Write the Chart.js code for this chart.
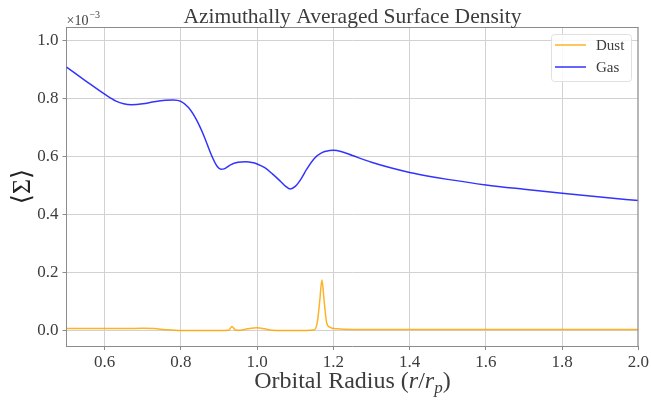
<!DOCTYPE html>
<html>
<head>
<meta charset="utf-8">
<script src="https://cdn.jsdelivr.net/npm/chart.js@4/dist/chart.umd.min.js"></script>
<style>
  html, body { margin: 0; padding: 0; background: #fff; }
  #wrap { width: 651px; height: 402px; position: relative; }
</style>
</head>
<body>
<div id="wrap"><canvas id="surfaceCanvas"></canvas></div>
<script>
// Radius (r/r_p) and averaged surface density (x 1e-3)
const gasR = [0.50, 0.55, 0.60, 0.63, 0.65, 0.67, 0.70, 0.73, 0.76, 0.78, 0.80, 0.82, 0.84, 0.86, 0.88,
  0.895, 0.905, 0.915, 0.93, 0.95, 0.97, 0.99, 1.00, 1.02, 1.04, 1.06, 1.075, 1.087, 1.10, 1.115,
  1.13, 1.15, 1.17, 1.19, 1.20, 1.22, 1.25, 1.30, 1.35, 1.40, 1.45, 1.50, 1.60, 1.70, 1.80, 1.90, 2.00];
const gasSigma = [0.907, 0.860, 0.814, 0.790, 0.781, 0.778, 0.781, 0.788, 0.793, 0.794, 0.789, 0.768, 0.728, 0.672, 0.605,
  0.566, 0.556, 0.558, 0.571, 0.580, 0.582, 0.578, 0.574, 0.561, 0.540, 0.516, 0.497, 0.488, 0.497, 0.522,
  0.556, 0.593, 0.613, 0.620, 0.621, 0.617, 0.603, 0.580, 0.561, 0.545, 0.532, 0.521, 0.502, 0.487, 0.473, 0.460, 0.448];

const dustR = [0.50, 0.60, 0.65, 0.70, 0.73, 0.76, 0.80, 0.90, 0.925, 0.934, 0.943, 0.955, 0.975, 1.00, 1.02,
  1.04, 1.10, 1.15, 1.158, 1.164, 1.170, 1.176, 1.182, 1.19, 1.21, 1.25, 1.50, 2.00];
const dustSigma = [0.008, 0.008, 0.008, 0.009, 0.008, 0.004, 0.001, 0.001, 0.002, 0.015, 0.003, 0.002, 0.007, 0.011, 0.007,
  0.002, 0.001, 0.004, 0.030, 0.100, 0.175, 0.100, 0.030, 0.013, 0.007, 0.005, 0.005, 0.005];

const xTicks = [0.6, 0.8, 1.0, 1.2, 1.4, 1.6, 1.8, 2.0];
const yTicks = [0.0, 0.2, 0.4, 0.6, 0.8, 1.0];

const SERIF = "'Liberation Serif', 'DejaVu Serif', serif";
const TEXT = '#3c3c3c';
const GRID = '#d2d2d2';
const SPINE = '#8c8c8c';

const toPoints = (xs, ys) => xs.map((x, i) => ({ x: x, y: ys[i] }));

// title, exponent, x title, frame and legend drawn on top of the plot
const decorPlugin = {
  id: 'decor',
  afterDraw(chart) {
    const ctx = chart.ctx;
    const a = chart.chartArea;
    ctx.save();

    // top / right spines
    ctx.strokeStyle = SPINE;
    ctx.lineWidth = 1;
    ctx.beginPath();
    ctx.moveTo(a.left, a.top + 0.5);
    ctx.lineTo(a.right, a.top + 0.5);
    ctx.moveTo(a.right - 0.5, a.top);
    ctx.lineTo(a.right - 0.5, a.bottom);
    ctx.stroke();

    ctx.fillStyle = TEXT;
    ctx.textBaseline = 'alphabetic';

    // title
    ctx.font = '21.5px ' + SERIF;
    ctx.textAlign = 'center';
    ctx.fillText('Azimuthally Averaged Surface Density', (a.left + a.right) / 2, 23);

    // offset text x10^-3
    ctx.textAlign = 'left';
    ctx.font = '14px ' + SERIF;
    ctx.fillText('\u00d710', a.left, 25);
    const w10 = ctx.measureText('\u00d710').width;
    ctx.font = '10px ' + SERIF;
    ctx.fillText('\u22123', a.left + w10 + 1, 18);

    // x axis title with italic r/r_p
    const parts = [
      { t: 'Orbital Radius (', f: '24px ' + SERIF, dy: 0 },
      { t: 'r', f: 'italic 24px ' + SERIF, dy: 0 },
      { t: '/', f: '24px ' + SERIF, dy: 0 },
      { t: 'r', f: 'italic 24px ' + SERIF, dy: 0 },
      { t: 'p', f: 'italic 17px ' + SERIF, dy: 5 },
      { t: ')', f: '24px ' + SERIF, dy: 0 }
    ];
    let total = 0;
    parts.forEach(p => { ctx.font = p.f; p.w = ctx.measureText(p.t).width; total += p.w; });
    let xx = (a.left + a.right) / 2 - total / 2;
    parts.forEach(p => { ctx.font = p.f; ctx.fillText(p.t, xx, 388 + p.dy); xx += p.w; });

    // legend box
    const bx = 551, by = 34, bw = 80, bh = 47;
    ctx.beginPath();
    ctx.roundRect(bx + 0.5, by + 0.5, bw, bh, 3);
    ctx.fillStyle = 'rgba(255,255,255,0.85)';
    ctx.fill();
    ctx.strokeStyle = '#e0e0e0';
    ctx.stroke();
    ctx.font = '15px ' + SERIF;
    ctx.textBaseline = 'middle';
    chart.data.datasets.forEach((ds, i) => {
      const ly = 45 + i * 22;
      ctx.strokeStyle = ds.borderColor;
      ctx.lineWidth = 1.5;
      ctx.beginPath();
      ctx.moveTo(555, ly);
      ctx.lineTo(586, ly);
      ctx.stroke();
      ctx.fillStyle = TEXT;
      ctx.fillText(ds.label, 596, ly + 1);
    });
    ctx.restore();
  }
};

new Chart(document.getElementById('surfaceCanvas').getContext('2d'), {
  type: 'line',
  data: {
    datasets: [
      {
        label: 'Dust',
        data: toPoints(dustR, dustSigma),
        borderColor: 'rgba(255,165,0,0.85)',
        borderWidth: 1.5,
        pointRadius: 0,
        fill: false,
        cubicInterpolationMode: 'monotone'
      },
      {
        label: 'Gas',
        data: toPoints(gasR, gasSigma),
        borderColor: 'rgba(0,0,255,0.8)',
        borderWidth: 1.5,
        pointRadius: 0,
        fill: false,
        cubicInterpolationMode: 'monotone'
      }
    ]
  },
  options: {
    responsive: true,
    maintainAspectRatio: false,
    animation: false,
    devicePixelRatio: 1,
    layout: { padding: { top: 27, right: 12, left: 0, bottom: 0 } },
    plugins: {
      legend: { display: false },
      title: { display: false },
      tooltip: { enabled: false }
    },
    scales: {
      x: {
        type: 'linear',
        min: 0.5,
        max: 2.0,
        afterBuildTicks: (scale) => { scale.ticks = xTicks.map(v => ({ value: v })); },
        afterFit: (scale) => { scale.height = 56; },
        grid: { color: GRID, lineWidth: 1, tickLength: 4, tickColor: SPINE },
        border: { color: SPINE, width: 1 },
        ticks: {
          color: TEXT,
          padding: 2,
          maxRotation: 0,
          autoSkip: false,
          font: { family: SERIF, size: 17 },
          callback: (v) => Number(v).toFixed(1)
        }
      },
      y: {
        type: 'linear',
        min: -0.052,
        max: 1.045,
        afterBuildTicks: (scale) => { scale.ticks = yTicks.map(v => ({ value: v })); },
        afterFit: (scale) => { scale.width = 66.5; },
        grid: { color: GRID, lineWidth: 1, tickLength: 4, tickColor: SPINE },
        border: { color: SPINE, width: 1 },
        title: {
          display: true,
          text: '\u27e8\u03a3\u27e9',
          color: '#222',
          font: { family: SERIF, size: 26, lineHeight: 1 },
          padding: { top: 10, bottom: 0 }
        },
        ticks: {
          color: TEXT,
          padding: 4,
          autoSkip: false,
          font: { family: SERIF, size: 17 },
          callback: (v) => Number(v).toFixed(1)
        }
      }
    }
  },
  plugins: [decorPlugin]
});
</script>
</body>
</html>
